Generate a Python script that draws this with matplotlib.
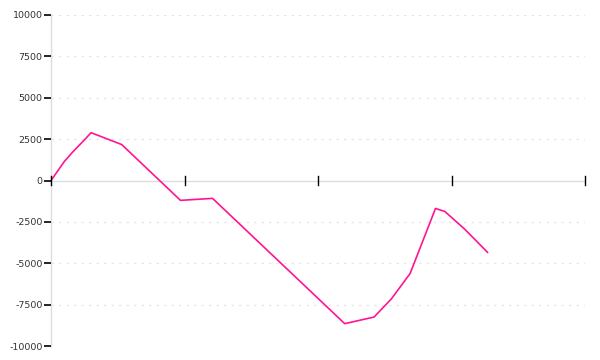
import matplotlib
matplotlib.use("Agg")
import matplotlib.pyplot as plt

# data (x in tick units: ticks at 0, 10, 20, 30, 40)
x_vals = [0, 1.0, 1.6, 2.5, 3.0, 5.3, 9.7, 12.1, 22.0, 24.2, 25.5, 26.9, 28.8, 29.5, 31.0, 32.7]
y_vals = [0, 1150, 1700, 2450, 2890, 2170, -1200, -1080, -8650, -8250, -7150, -5620, -1690, -1870, -2950, -4340]

x_ticks = [0, 10, 20, 30, 40]
y_ticks = [-10000, -7500, -5000, -2500, 0, 2500, 5000, 7500, 10000]

fig = plt.figure(figsize=(6, 3.6), dpi=100, facecolor="white")
ax = fig.add_axes([51 / 600, 1 - 346 / 360, 534 / 600, 331 / 360])

# dotted horizontal grid (skip zero, the axis line sits there)
for yt in y_ticks:
    if yt != 0:
        ax.axhline(yt, color="#e6e6e6", linewidth=0.9, linestyle=(0, (2, 4)), zorder=0)
ax.axhline(0, color="#dddddd", linewidth=1.0, zorder=1)

ax.plot(x_vals, y_vals, color="#ff1493", linewidth=1.2, zorder=3)

ax.set_xlim(0, 40)
ax.set_ylim(-10000, 10000)

for side in ["top", "right", "bottom"]:
    ax.spines[side].set_visible(False)
ax.spines["left"].set_color("#dddddd")
ax.spines["left"].set_linewidth(1.0)
ax.spines["left"].set_zorder(0.5)

ax.set_yticks(y_ticks)
ax.set_yticklabels([str(v) for v in y_ticks])
ax.tick_params(axis="y", direction="out", length=5, width=1.2, color="black",
               labelsize=6.8, labelcolor="#333333", pad=1)

# x ticks drawn on the zero line, crossing it
ax.set_xticks([])
for xt in x_ticks:
    ax.plot([xt, xt], [-260, 260], color="black", linewidth=1.0, zorder=4,
            clip_on=False)

fig.savefig("out.png", dpi=100, facecolor="white")
